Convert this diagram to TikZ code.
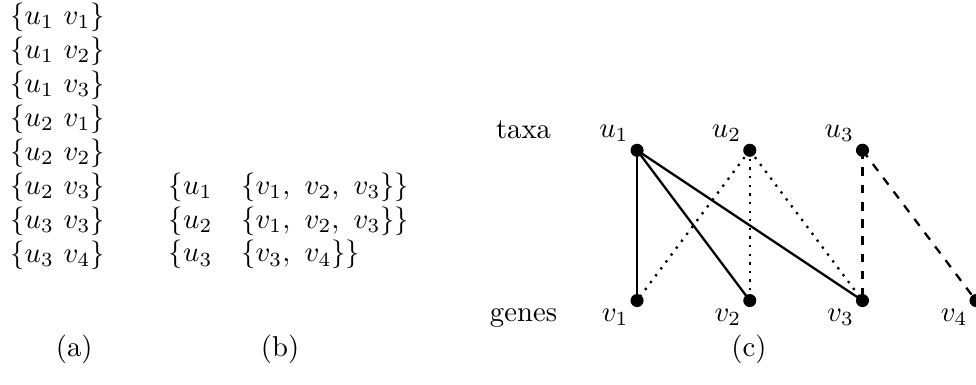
\documentclass[tikz,border=0pt]{standalone}
\usetikzlibrary{positioning}
\tikzset{
  vtx/.style={circle,fill,inner sep=0pt,minimum size=1.6mm},
  row/.style={anchor=west,inner sep=0pt},
  dots/.style={thick,dash pattern=on 0.8pt off 2.2pt},
}
\begin{document}
\begin{tikzpicture}[x=1cm,y=1cm]
\useasboundingbox (0,0) rectangle (11.95,-4.71);
% (a) all pairs
\foreach \i/\a/\b in {1/1/1,2/1/2,3/1/3,4/2/1,5/2/2,6/2/3,7/3/3,8/3/4}
  \node[row] (p\i) at (0.12,{-0.21-0.416*(\i-1)}) {$\{u_\a\ v_\b\}$};
\node (capa) at (0.91,-4.28) {(a)};
% (b) grouped by taxon
\node[row] (g1) at (2.06,-2.29) {$\{u_1\quad\{v_1,\ v_2,\ v_3\}\}$};
\node[row] (g2) at (2.06,-2.71) {$\{u_2\quad\{v_1,\ v_2,\ v_3\}\}$};
\node[row] (g3) at (2.06,-3.12) {$\{u_3\quad\{v_3,\ v_4\}\}$};
\node (capb) at (3.43,-4.28) {(b)};
% (c) bipartite graph
\node (taxa) at (6.41,-1.59) {taxa};
\node (genes) at (6.41,-3.89) {genes};
\node[vtx,label={[inner sep=1pt]above left:$u_1$}] (u1) at (7.80,-1.84) {};
\node[vtx,label={[inner sep=1pt]above left:$u_2$}] (u2) at (9.18,-1.84) {};
\node[vtx,label={[inner sep=1pt]above left:$u_3$}] (u3) at (10.56,-1.84) {};
\node[vtx,label={[inner sep=1pt]below left:$v_1$}] (v1) at (7.80,-3.68) {};
\node[vtx,label={[inner sep=1pt]below left:$v_2$}] (v2) at (9.18,-3.68) {};
\node[vtx,label={[inner sep=1pt]below left:$v_3$}] (v3) at (10.56,-3.68) {};
\node[vtx,label={[inner sep=1pt]below left:$v_4$}] (v4) at (11.95,-3.68) {};
\draw[thick] (u1.center) -- (v1.center);
\draw[thick] (u1.center) -- (v2.center);
\draw[thick] (u1.center) -- (v3.center);
\draw[dots] (u2.center) -- (v1.center);
\draw[dots] (u2.center) -- (v2.center);
\draw[dots] (u2.center) -- (v3.center);
\draw[thick,dashed] (u3.center) -- (v3.center);
\draw[thick,dashed] (u3.center) -- (v4.center);
\node (capc) at (9.17,-4.28) {(c)};
\end{tikzpicture}
\end{document}
